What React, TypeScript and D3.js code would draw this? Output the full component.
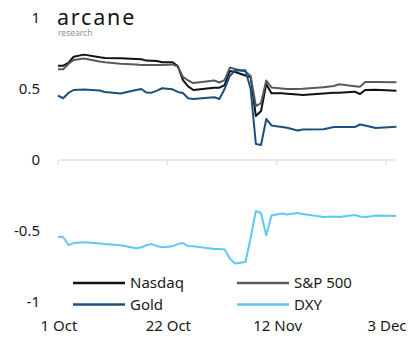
import React from "react";
import * as d3 from "d3";

// Observation dates (2024) shared by all four series
const dates = [
  "2024-10-01", "2024-10-02", "2024-10-03", "2024-10-04", "2024-10-06", "2024-10-09",
  "2024-10-10", "2024-10-13", "2024-10-16", "2024-10-17", "2024-10-18", "2024-10-19",
  "2024-10-20", "2024-10-21", "2024-10-23", "2024-10-24", "2024-10-25", "2024-10-26",
  "2024-10-27", "2024-10-31", "2024-11-01", "2024-11-02", "2024-11-03", "2024-11-04",
  "2024-11-06", "2024-11-07", "2024-11-08", "2024-11-09", "2024-11-10", "2024-11-11",
  "2024-11-13", "2024-11-14", "2024-11-16", "2024-11-17", "2024-11-21", "2024-11-23",
  "2024-11-24", "2024-11-27", "2024-11-28", "2024-11-29", "2024-12-01", "2024-12-05",
];

// Correlation values per series
const nasdaq = [
  0.664, 0.664, 0.684, 0.727, 0.742, 0.723, 0.719, 0.716, 0.711, 0.709, 0.7, 0.699,
  0.697, 0.688, 0.688, 0.662, 0.563, 0.518, 0.493, 0.509, 0.509, 0.528, 0.627, 0.62,
  0.595, 0.585, 0.31, 0.345, 0.535, 0.47, 0.47, 0.467, 0.461, 0.458, 0.468, 0.474,
  0.473, 0.481, 0.465, 0.493, 0.494, 0.488,
];
const sp500 = [
  0.639, 0.639, 0.676, 0.704, 0.715, 0.694, 0.688, 0.678, 0.673, 0.669, 0.669, 0.669,
  0.669, 0.669, 0.673, 0.658, 0.585, 0.56, 0.542, 0.56, 0.546, 0.563, 0.651, 0.641,
  0.623, 0.592, 0.38, 0.401, 0.56, 0.511, 0.504, 0.5, 0.5, 0.501, 0.512, 0.521,
  0.533, 0.52, 0.516, 0.549, 0.549, 0.547,
];
const gold = [
  0.453, 0.435, 0.472, 0.493, 0.496, 0.489, 0.479, 0.468, 0.493, 0.5, 0.475, 0.474,
  0.489, 0.505, 0.498, 0.479, 0.472, 0.435, 0.43, 0.442, 0.43, 0.5, 0.592, 0.63,
  0.632, 0.5, 0.113, 0.106, 0.289, 0.243, 0.232, 0.227, 0.208, 0.215, 0.216, 0.232,
  0.232, 0.232, 0.25, 0.243, 0.225, 0.235,
];
const dxy = [
  -0.54, -0.542, -0.599, -0.585, -0.579, -0.588, -0.592, -0.601, -0.622, -0.616, -0.599, -0.592,
  -0.606, -0.615, -0.608, -0.592, -0.585, -0.606, -0.608, -0.627, -0.627, -0.63, -0.694, -0.729,
  -0.718, -0.549, -0.359, -0.373, -0.532, -0.391, -0.377, -0.384, -0.373, -0.38, -0.401, -0.398,
  -0.401, -0.387, -0.398, -0.403, -0.391, -0.394,
];

const seriesNames = ["Nasdaq", "S&P 500", "Gold", "DXY"];
const seriesColors = ["#111111", "#555b61", "#1d4f7d", "#5fc9f3"];
const seriesValues = [nasdaq, sp500, gold, dxy];

const yTicks = [1, 0.5, 0, -0.5, -1];
const xTickDates = ["2024-10-01", "2024-10-22", "2024-11-12", "2024-12-03"];
const xTickLabels = ["1 Oct", "22 Oct", "12 Nov", "3 Dec"];

const W = 411;
const H = 344;
const FONT = "'Noto Sans', 'DejaVu Sans', sans-serif";

export default function App() {
  const parse = d3.utcParse("%Y-%m-%d");
  const parsed = dates.map((d) => parse(d) as Date);

  const x = d3
    .scaleUtc()
    .domain([parse("2024-10-01") as Date, parse("2024-12-03") as Date])
    .range([58, 386]);
  const y = d3.scaleLinear().domain([-1, 1]).range([302, 18]);

  const line = d3
    .line<[Date, number]>()
    .x((d) => x(d[0]))
    .y((d) => y(d[1]))
    .curve(d3.curveLinear);

  const xEnd = x(parsed[parsed.length - 1]);
  const fmt = d3.format("");

  return (
    <svg
      width={W}
      height={H}
      style={{ position: "absolute", left: 0, top: 0, background: "#fff" }}
      fontFamily={FONT}
    >
      {/* brand mark */}
      <text x={57} y={25} fontSize={21.5} fill="#151515" letterSpacing={1.8}>
        arcane
      </text>
      <text x={58} y={36} fontSize={8.5} fill="#8c939c">
        research
      </text>

      {/* zero baseline with date ticks */}
      <line x1={x.range()[0]} x2={xEnd} y1={y(0)} y2={y(0)} stroke="#e1e5ea" strokeWidth={1.5} />
      {xTickDates.map((d) => {
        const xx = x(parse(d) as Date);
        return (
          <line key={d} x1={xx} x2={xx} y1={y(0)} y2={y(0) + 5} stroke="#e1e5ea" strokeWidth={1.5} />
        );
      })}

      {/* y tick labels */}
      {yTicks.map((t) => (
        <text
          key={t}
          x={40}
          y={y(t)}
          dy="0.36em"
          textAnchor="end"
          fontSize={15}
          fill="#1a1a1a"
        >
          {fmt(t).replace("\u2212", "-")}
        </text>
      ))}

      {/* x tick labels */}
      {xTickDates.map((d, i) => (
        <text
          key={d}
          x={x(parse(d) as Date) + 1}
          y={331}
          textAnchor="middle"
          fontSize={15}
          fill="#1a1a1a"
        >
          {xTickLabels[i]}
        </text>
      ))}

      {/* series lines */}
      {seriesValues.map((vals, i) => (
        <path
          key={seriesNames[i]}
          d={line(parsed.map((p, j) => [p, vals[j]] as [Date, number])) || ""}
          fill="none"
          stroke={seriesColors[i]}
          strokeWidth={2}
          strokeLinejoin="round"
        />
      ))}

      {/* legend */}
      {seriesNames.map((name, i) => {
        const col = i % 2;
        const row = Math.floor(i / 2);
        const lx = col === 0 ? 73 : 237;
        const ly = row === 0 ? 283 : 304.5;
        return (
          <g key={name}>
            <line x1={lx} x2={lx + 52} y1={ly} y2={ly} stroke={seriesColors[i]} strokeWidth={2.5} />
            <text x={lx + 57} y={ly} dy="0.36em" fontSize={15} fill="#1a1a1a">
              {name}
            </text>
          </g>
        );
      })}
    </svg>
  );
}
